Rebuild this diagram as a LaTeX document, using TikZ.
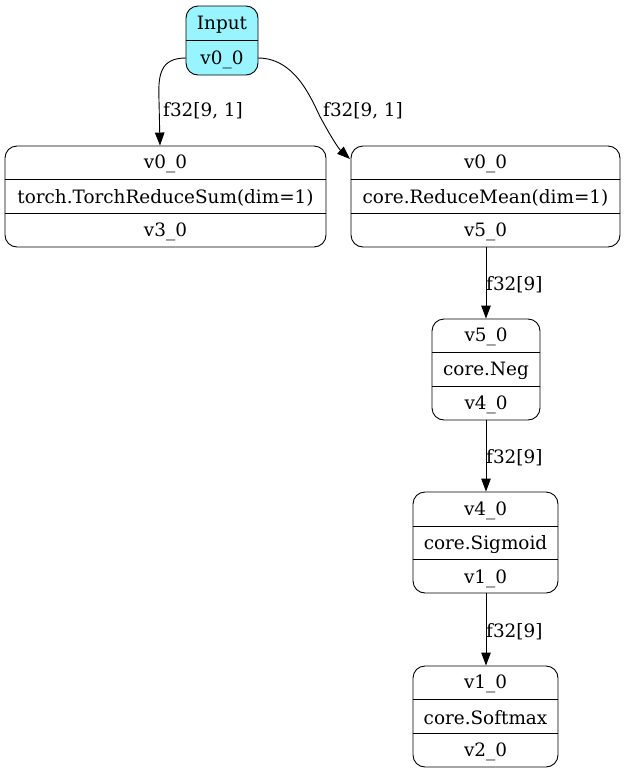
\documentclass[tikz,border=0pt]{standalone}
\usepackage{fontspec}
\setmainfont{DejaVu Serif}
\usetikzlibrary{arrows.meta}
\definecolor{inputcyan}{HTML}{98F5FF}
\tikzset{
  rec/.style={draw, rounded corners=12pt, line width=0.9pt, inner sep=0pt},
  lbl/.style={font=\fontsize{18.4}{20}\selectfont, inner sep=0pt, anchor=center, yshift=-1.5pt},
  elbl/.style={font=\fontsize{18.4}{20}\selectfont, inner sep=0pt, anchor=west, yshift=-1.5pt},
  edge/.style={line width=0.9pt, -{Triangle[length=13pt,width=9.5pt]}},
  div/.style={line width=0.9pt}
}
\begin{document}
\begin{tikzpicture}[x=1pt,y=-1pt]
\useasboundingbox (0,0) rectangle (626,774);
% Input
\node[rec, fill=inputcyan, minimum width=72pt, minimum height=69pt] (in) at (222,40.5) {};
\draw[div] (in.west |- 0,40) coordinate (ind1) -- (in.east |- 0,40);
\node[lbl] (int) at (222,23) {Input};
\node[lbl] (inv) at (222,58) {v0\_0};
% Left record
\node[rec, minimum width=321pt, minimum height=101pt] (sum) at (165.5,196.5) {};
\draw[div] (sum.west |- 0,179) -- (sum.east |- 0,179);
\draw[div] (sum.west |- 0,213) -- (sum.east |- 0,213);
\node[lbl] (sum1) at (165.5,162) {v0\_0};
\node[lbl] (sum2) at (165.5,196) {torch.TorchReduceSum(dim=1)};
\node[lbl] (sum3) at (165.5,230) {v3\_0};
% Right record
\node[rec, minimum width=269pt, minimum height=101pt] (mean) at (485.5,196.5) {};
\draw[div] (mean.west |- 0,179) -- (mean.east |- 0,179);
\draw[div] (mean.west |- 0,213) -- (mean.east |- 0,213);
\node[lbl] (mean1) at (485.5,162) {v0\_0};
\node[lbl] (mean2) at (485.5,196) {core.ReduceMean(dim=1)};
\node[lbl] (mean3) at (485.5,230) {v5\_0};
% Neg
\node[rec, minimum width=108pt, minimum height=101pt] (neg) at (486,369.5) {};
\draw[div] (neg.west |- 0,352) -- (neg.east |- 0,352);
\draw[div] (neg.west |- 0,386) -- (neg.east |- 0,386);
\node[lbl] (neg1) at (486,335) {v5\_0};
\node[lbl] (neg2) at (486,369) {core.Neg};
\node[lbl] (neg3) at (486,403) {v4\_0};
% Sigmoid
\node[rec, minimum width=145pt, minimum height=101pt] (sig) at (485.5,542.5) {};
\draw[div] (sig.west |- 0,526) -- (sig.east |- 0,526);
\draw[div] (sig.west |- 0,559) -- (sig.east |- 0,559);
\node[lbl] (sig1) at (485.5,509) {v4\_0};
\node[lbl] (sig2) at (485.5,543) {core.Sigmoid};
\node[lbl] (sig3) at (485.5,577) {v1\_0};
% Softmax
\node[rec, minimum width=145pt, minimum height=101pt] (soft) at (485.5,716.5) {};
\draw[div] (soft.west |- 0,699) -- (soft.east |- 0,699);
\draw[div] (soft.west |- 0,733) -- (soft.east |- 0,733);
\node[lbl] (soft1) at (485.5,682) {v1\_0};
\node[lbl] (soft2) at (485.5,716) {core.Softmax};
\node[lbl] (soft3) at (485.5,750) {v2\_0};
% edges
\coordinate (inL) at (186,58);
\coordinate (inR) at (258,58);
\draw[edge] (inL) .. controls (160,58) and (158,75) .. (159,100) -- (sum.north -| 160,0);
\draw[edge] (inR) .. controls (300,58) and (315,110) .. (323,122) .. controls (330,135) and (338,148) .. (350,159);
\node[elbl] (l1) at (163,109) {f32[9, 1]};
\node[elbl] (l2) at (323,109) {f32[9, 1]};
\draw[edge] (mean.south -| 486,0) -- (neg.north);
\node[elbl] (l3) at (486,283) {f32[9]};
\draw[edge] (neg.south) -- (sig.north -| 486,0);
\node[elbl] (l4) at (486,456) {f32[9]};
\draw[edge] (sig.south -| 486,0) -- (soft.north -| 486,0);
\node[elbl] (l5) at (486,630) {f32[9]};
\end{tikzpicture}
\end{document}
